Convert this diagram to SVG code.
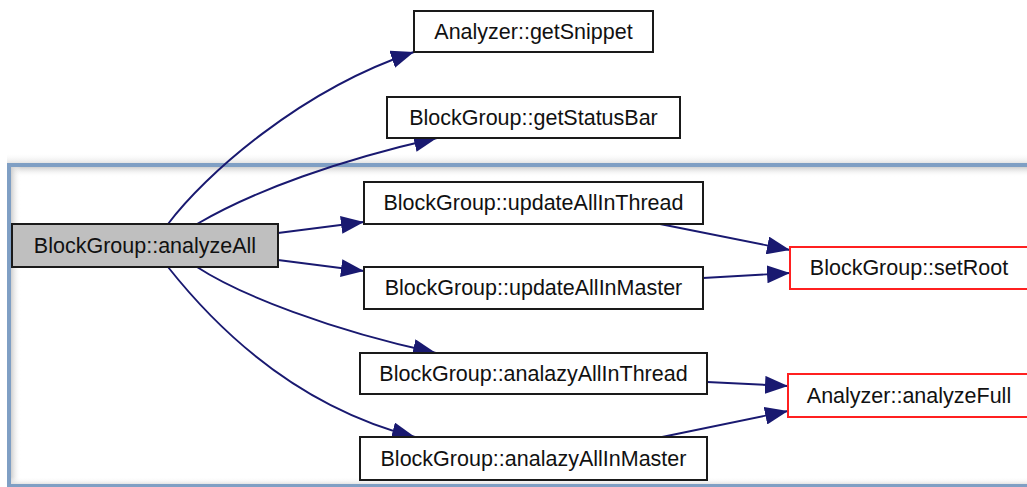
<svg xmlns="http://www.w3.org/2000/svg" width="1027" height="487" viewBox="0 0 1027 487">
<style>
  .node rect { fill: #ffffff; stroke: #1a1a1a; stroke-width: 2; }
  .node.root rect { fill: #bfbfbf; }
  .node.red rect { stroke: #ff2020; stroke-width: 2; }
  .node text { font-family: "Liberation Sans", Arial, sans-serif; font-size: 21.5px; fill: #111111; text-anchor: middle; }
  .edge { fill: none; stroke: #191970; stroke-width: 1.9; marker-end: url(#arrow); }
</style>
<defs>
  <marker id="arrow" markerUnits="userSpaceOnUse" markerWidth="24" markerHeight="18" viewBox="0 0 24 18" refX="23" refY="9" orient="auto">
    <path d="M0,0 L23,9 L0,18 z" fill="#191970"/>
  </marker>
  <linearGradient id="shTop" x1="0" y1="0" x2="0" y2="1">
    <stop offset="0" stop-color="#cfcfcf"/>
    <stop offset="1" stop-color="#ffffff" stop-opacity="0"/>
  </linearGradient>
  <linearGradient id="shLeft" x1="0" y1="0" x2="1" y2="0">
    <stop offset="0" stop-color="#cfcfcf"/>
    <stop offset="1" stop-color="#ffffff" stop-opacity="0"/>
  </linearGradient>
  <linearGradient id="shOut" x1="0" y1="1" x2="0" y2="0">
    <stop offset="0" stop-color="#e4e4e4"/>
    <stop offset="1" stop-color="#ffffff" stop-opacity="0"/>
  </linearGradient>
  <linearGradient id="shBot" x1="0" y1="1" x2="0" y2="0">
    <stop offset="0" stop-color="#dcdcdc"/>
    <stop offset="1" stop-color="#ffffff" stop-opacity="0"/>
  </linearGradient>
</defs>
<rect x="0" y="0" width="1027" height="487" fill="#ffffff"/>
<g id="frame">
  <rect x="7" y="153" width="1030" height="10" fill="url(#shOut)"/>
  <rect x="11" y="167" width="1020" height="10" fill="url(#shTop)"/>
  <rect x="11" y="167" width="10" height="318" fill="url(#shLeft)"/>
  <rect x="11" y="477" width="1020" height="8" fill="url(#shBot)"/>
  <rect x="9" y="165" width="1030" height="321" fill="none" stroke="#7f9fc4" stroke-width="4"/>
</g>
<g id="connectors">
  <path class="edge" d="M168,224 C205,175 300,90 414,52"/>
  <path class="edge" d="M197,224 C255,190 340,160 437,138"/>
  <path class="edge" d="M278,233 L364,222"/>
  <path class="edge" d="M278,260 L364,271"/>
  <path class="edge" d="M197,267 C240,295 330,330 436,353"/>
  <path class="edge" d="M168,267 C210,320 290,405 415,437"/>
  <path class="edge" d="M660,224 L790,250"/>
  <path class="edge" d="M703,278 L790,273"/>
  <path class="edge" d="M707,382 L788,386"/>
  <path class="edge" d="M662,437 L788,411"/>
</g>
<g id="n_getSnippet" class="node">
  <rect x="414" y="11" width="239" height="41"/>
  <text x="533.5" y="39">Analyzer::getSnippet</text>
</g>
<g id="n_getStatusBar" class="node">
  <rect x="387" y="97" width="293" height="41"/>
  <text x="533.5" y="125">BlockGroup::getStatusBar</text>
</g>
<g id="n_analyzeAll" class="node root">
  <rect x="12" y="224" width="266" height="43"/>
  <text x="145" y="253">BlockGroup::analyzeAll</text>
</g>
<g id="n_updateAllInThread" class="node">
  <rect x="364" y="182" width="339" height="42"/>
  <text x="533.5" y="210">BlockGroup::updateAllInThread</text>
</g>
<g id="n_updateAllInMaster" class="node">
  <rect x="364" y="267" width="339" height="42"/>
  <text x="533.5" y="295">BlockGroup::updateAllInMaster</text>
</g>
<g id="n_analazyAllInThread" class="node">
  <rect x="360" y="353" width="347" height="41"/>
  <text x="533.5" y="381">BlockGroup::analazyAllInThread</text>
</g>
<g id="n_analazyAllInMaster" class="node">
  <rect x="360" y="437" width="347" height="43"/>
  <text x="533.5" y="466">BlockGroup::analazyAllInMaster</text>
</g>
<g id="n_setRoot" class="node red">
  <rect x="790" y="247" width="250" height="42"/>
  <text x="909" y="275">BlockGroup::setRoot</text>
</g>
<g id="n_analyzeFull" class="node red">
  <rect x="788" y="374" width="252" height="43"/>
  <text x="909" y="403">Analyzer::analyzeFull</text>
</g>
</svg>
